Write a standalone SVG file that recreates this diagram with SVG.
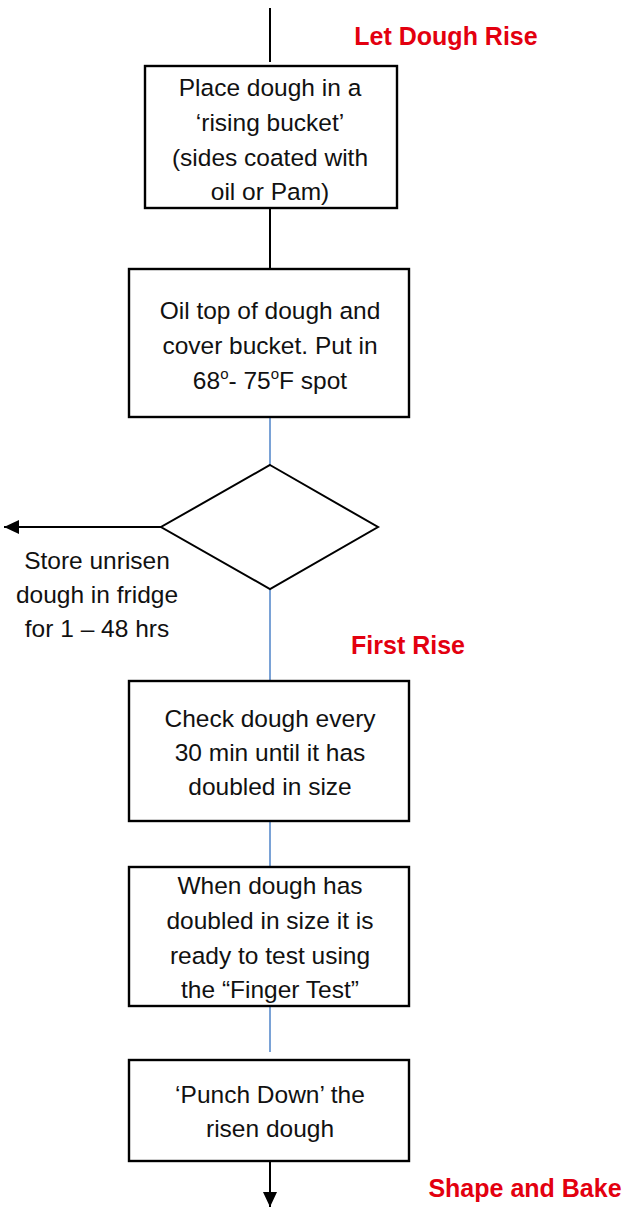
<svg xmlns="http://www.w3.org/2000/svg" width="624" height="1209" viewBox="0 0 624 1209">
<style>
.box{fill:#fff;stroke:#000;stroke-width:2.4}
.t{font-family:"Liberation Sans",Arial,sans-serif;font-size:24.5px;fill:#111;text-anchor:middle}
.r{font-family:"Liberation Sans",Arial,sans-serif;font-size:25px;font-weight:bold;fill:#e3000f;text-anchor:middle}
.k{stroke:#000;stroke-width:2;fill:none}
.b{stroke:#7aa2d6;stroke-width:2;fill:none}
</style>
<defs>
<marker id="ah" viewBox="0 0 10 10" refX="10" refY="5" markerWidth="15" markerHeight="14" markerUnits="userSpaceOnUse" orient="auto" preserveAspectRatio="none">
<path d="M0,0 L10,5 L0,10 z" fill="#000"/>
</marker>
</defs>
<g id="connectors">
<line class="k" x1="270" y1="8" x2="270" y2="62"/>
<line class="k" x1="270" y1="208" x2="270" y2="269"/>
<line class="b" x1="270" y1="417" x2="270" y2="465"/>
<line class="k" x1="161" y1="527" x2="4" y2="527" marker-end="url(#ah)"/>
<line class="b" x1="270" y1="589" x2="270" y2="681"/>
<line class="b" x1="270" y1="821" x2="270" y2="867"/>
<line class="b" x1="270" y1="1006" x2="270" y2="1052"/>
<line class="k" x1="270" y1="1161" x2="270" y2="1207" marker-end="url(#ah)"/>
</g>
<g id="label-let-dough-rise"><text class="r" x="446" y="45">Let Dough Rise</text></g>
<g id="box1">
<rect class="box" x="145" y="66" width="252" height="142"/>
<text class="t" x="270" y="96">Place dough in a</text>
<text class="t" x="270" y="131">‘rising bucket’</text>
<text class="t" x="270" y="166">(sides coated with</text>
<text class="t" x="270" y="200">oil or Pam)</text>
</g>
<g id="box2">
<rect class="box" x="129" y="269" width="280" height="148"/>
<text class="t" x="270" y="319">Oil top of dough and</text>
<text class="t" x="270" y="354">cover bucket. Put in</text>
<text class="t" x="270" y="389">68<tspan font-size="15" dy="-10">o</tspan><tspan dy="10">- 75</tspan><tspan font-size="15" dy="-10">o</tspan><tspan dy="10">F spot</tspan></text>
</g>
<g id="decision">
<polygon points="270,465 378,527 270,589 161,527" fill="#fff" stroke="#000" stroke-width="2"/>
</g>
<g id="label-store">
<text class="t" x="97" y="569">Store unrisen</text>
<text class="t" x="97" y="603">dough in fridge</text>
<text class="t" x="97" y="637">for 1 – 48 hrs</text>
</g>
<g id="label-first-rise"><text class="r" x="408" y="654">First Rise</text></g>
<g id="box3">
<rect class="box" x="129" y="681" width="280" height="140"/>
<text class="t" x="270" y="727">Check dough every</text>
<text class="t" x="270" y="761">30 min until it has</text>
<text class="t" x="270" y="795">doubled in size</text>
</g>
<g id="box4">
<rect class="box" x="129" y="867" width="280" height="139"/>
<text class="t" x="270" y="894">When dough has</text>
<text class="t" x="270" y="929">doubled in size it is</text>
<text class="t" x="270" y="964">ready to test using</text>
<text class="t" x="270" y="998">the “Finger Test”</text>
</g>
<g id="box5">
<rect class="box" x="129" y="1060" width="280" height="101"/>
<text class="t" x="270" y="1103">‘Punch Down’ the</text>
<text class="t" x="270" y="1137">risen dough</text>
</g>
<g id="label-shape-bake"><text class="r" x="525" y="1197">Shape and Bake</text></g>
</svg>
